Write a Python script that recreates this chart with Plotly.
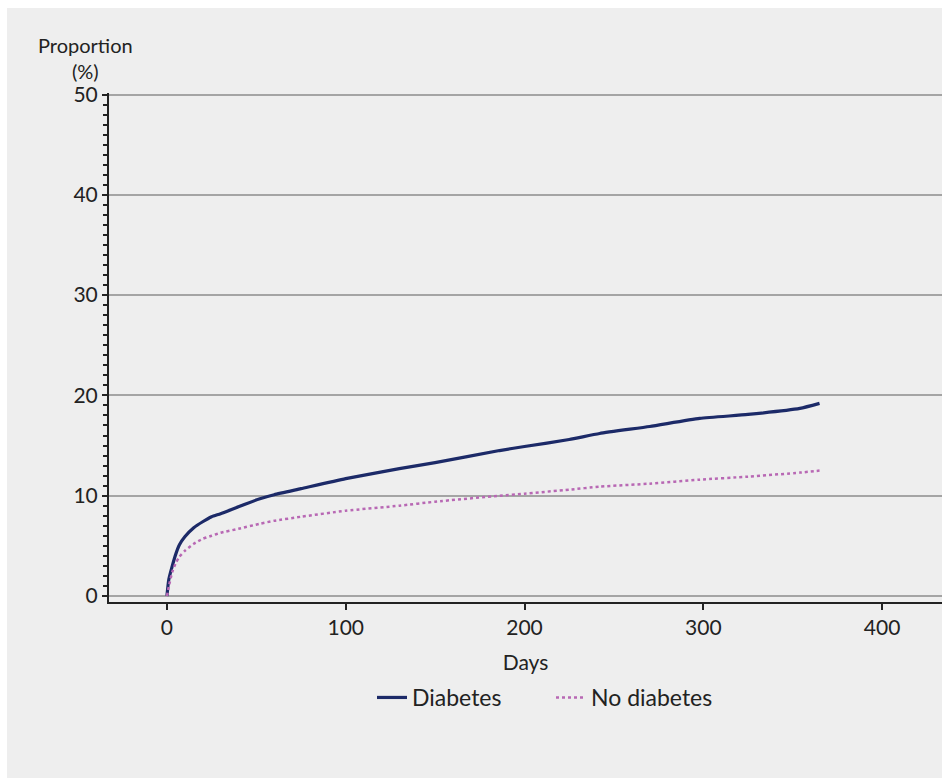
import plotly.graph_objects as go

# Days since index
days = [0, 1, 3, 5, 7, 10, 15, 20, 25, 30, 40, 52, 60, 75, 100, 130, 150, 186, 200,
        225, 242, 270, 298, 325, 354, 365]
# Cumulative proportion (%)
diabetes = [0, 1.6, 3.0, 4.2, 5.1, 5.9, 6.8, 7.4, 7.9, 8.2, 8.9, 9.7, 10.1, 10.7, 11.7,
            12.7, 13.3, 14.5, 14.9, 15.6, 16.2, 16.9, 17.7, 18.1, 18.7, 19.2]
no_diabetes = [0, 0.9, 2.4, 3.3, 3.9, 4.5, 5.2, 5.7, 6.0, 6.3, 6.7, 7.2, 7.5, 7.9, 8.5,
               9.0, 9.4, 10.0, 10.2, 10.6, 10.9, 11.2, 11.6, 11.9, 12.3, 12.5]

series_names = ["Diabetes", "No diabetes"]
x_ticks = [0, 100, 200, 300, 400]
y_ticks = [0, 10, 20, 30, 40, 50]

BG = "#eeeeee"
DARK = "#222222"
FONT = "Lato"

fig = go.Figure()
fig.add_trace(go.Scatter(x=days, y=diabetes, mode="lines", name=series_names[0],
                         line=dict(color="#1c2a68", width=3.2, shape="spline", smoothing=0.5)))
fig.add_trace(go.Scatter(x=days, y=no_diabetes, mode="lines", name=series_names[1],
                         line=dict(color="#b868b4", width=2.5, dash="dot", shape="spline", smoothing=0.5)))

PW, PH = 833, 509
fig.update_layout(
    width=942, height=778,
    margin=dict(l=109, r=0, t=93, b=176),
    paper_bgcolor="white",
    plot_bgcolor="rgba(0,0,0,0)",
    font=dict(family=FONT, color=DARK, size=21),
    showlegend=True,
    legend=dict(orientation="h", x=(551 - 109) / PW, xanchor="center",
                y=-(676 - 602) / PH, yanchor="top",
                bgcolor="rgba(0,0,0,0)", font=dict(size=23), itemwidth=30,
                entrywidth=134, entrywidthmode="pixels", tracegroupgap=0),
    shapes=[dict(type="rect", xref="paper", yref="paper",
                 x0=(7 - 109) / PW, x1=1.0, y0=-(778 - 602) / PH - 0.01, y1=1 + (93 - 8) / PH,
                 fillcolor=BG, line=dict(width=0), layer="below")],
    annotations=[dict(text="Proportion<br>(%)", xref="paper", yref="paper",
                      x=(85 - 109) / PW, y=1 + (93 - 31) / PH, xanchor="center", yanchor="top",
                      showarrow=False, font=dict(size=20, color=DARK), align="center")],
)

fig.update_xaxes(
    range=[-32.4, 433.5], tickvals=x_ticks, showgrid=False, zeroline=False,
    showline=True, linecolor=DARK, linewidth=2, ticks="outside", ticklen=6, tickwidth=2,
    tickcolor=DARK, tickfont=dict(size=21),
    title=dict(text="Days", font=dict(size=21), standoff=17),
)
fig.update_yaxes(
    range=[-0.6, 50.15], tickvals=y_ticks, showgrid=True, gridcolor="#a4a4a4", gridwidth=1.8,
    zeroline=False, showline=True, linecolor=DARK, linewidth=2, ticks="outside", ticklen=5,
    tickwidth=2, tickcolor=DARK, tickfont=dict(size=21),
    minor=dict(dtick=1, ticks="outside", ticklen=4, tickcolor=DARK, tickwidth=1.5, showgrid=False),
)

fig.write_html("out.html")
